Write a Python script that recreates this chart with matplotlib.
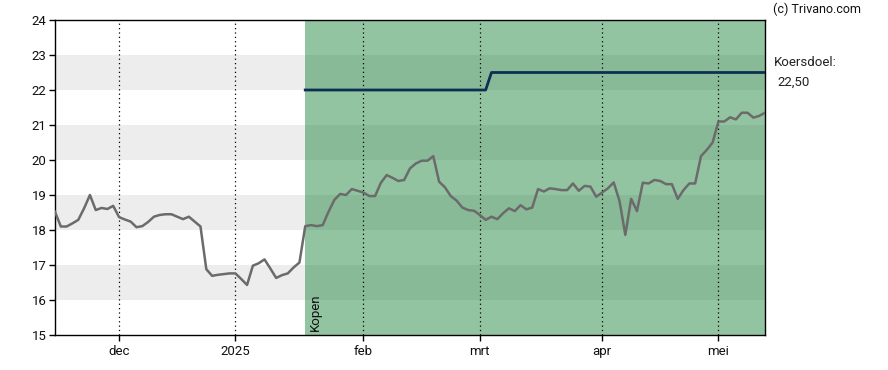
import matplotlib
matplotlib.use("Agg")
import matplotlib.pyplot as plt
from matplotlib.ticker import FixedLocator

plt.rcParams['font.family'] = ['Roboto', 'DejaVu Sans']

# trading-day index and closing price
day_index = list(range(0, 123))
price = [
    18.52, 18.10, 18.10, 18.19, 18.29, 18.62, 19.00, 18.57, 18.63, 18.60,
    18.69, 18.37, 18.30, 18.24, 18.08, 18.11, 18.23, 18.38, 18.43, 18.45,
    18.45, 18.38, 18.31, 18.38, 18.24, 18.10, 16.88, 16.69, 16.72, 16.74,
    16.76, 16.76, 16.60, 16.43, 16.98, 17.05, 17.16, 16.90, 16.63, 16.71,
    16.76, 16.93, 17.07, 18.11, 18.14, 18.11, 18.14, 18.52, 18.86, 19.03,
    19.00, 19.17, 19.12, 19.07, 18.97, 18.97, 19.35, 19.57, 19.49, 19.40,
    19.43, 19.76, 19.90, 19.98, 19.98, 20.11, 19.38, 19.22, 18.97, 18.84,
    18.64, 18.57, 18.55, 18.43, 18.29, 18.38, 18.31, 18.48, 18.62, 18.54,
    18.71, 18.59, 18.64, 19.17, 19.10, 19.19, 19.17, 19.14, 19.14, 19.33,
    19.12, 19.26, 19.24, 18.95, 19.07, 19.19, 19.36, 18.83, 17.86, 18.89,
    18.54, 19.35, 19.33, 19.43, 19.40, 19.31, 19.31, 18.89, 19.14, 19.33,
    19.33, 20.11, 20.29, 20.50, 21.10, 21.10, 21.22, 21.16, 21.35, 21.35,
    21.21, 21.26, 21.35,
]

# price target (koersdoel) from the buy advice onwards
target_index = [43, 74, 75, 122]
target_value = [22.0, 22.0, 22.5, 22.5]

advice_start = 43
advice_label = "Kopen"

month_ticks = [11, 31, 53, 73, 94, 114]
month_labels = ["dec", "2025", "feb", "mrt", "apr", "mei"]

y_ticks = [15, 16, 17, 18, 19, 20, 21, 22, 23, 24]
gray_bands = [(16, 17), (18, 19), (20, 21), (22, 23)]

fig = plt.figure(figsize=(8.88, 3.70), dpi=100)
ax = fig.add_axes([55 / 888, 1 - 335 / 370, 710 / 888, 315 / 370])

xmin, xmax = 0, 122
ax.set_xlim(xmin, xmax)
ax.set_ylim(15, 24)

for lo, hi in gray_bands:
    ax.axhspan(lo, hi, color="#ededed", lw=0, zorder=0)

ax.axvspan(advice_start, xmax, color="#1a8239", alpha=0.47, lw=0, zorder=1)

for t in month_ticks:
    ax.axvline(t, color="black", lw=0.9, ls=(0, (1, 2.5)), zorder=2)

ax.plot(target_index, target_value, color="#0d2f52", lw=2, zorder=3)
ax.plot(day_index, price, color="#6b6b6b", lw=1.8, zorder=4,
        solid_joinstyle="round")

ax.text(advice_start + 0.6, 15.12, advice_label, rotation=90, fontsize=9.5,
        ha="left", va="bottom", color="#111111", zorder=5)

ax.xaxis.set_major_locator(FixedLocator(month_ticks))
ax.set_xticklabels(month_labels)
ax.set_yticks(y_ticks)
ax.tick_params(axis="both", labelsize=9.5, length=4, width=1, color="black",
               labelcolor="#111111")
ax.tick_params(axis="x", pad=3)
ax.tick_params(axis="y", pad=2)
for s in ax.spines.values():
    s.set_color("black")
    s.set_linewidth(1)

fig.text(773 / 888, 1 - 9 / 370, "(c) Trivano.com", fontsize=9, ha="left",
         va="center", color="#111111")
fig.text(774 / 888, 1 - 63 / 370, "Koersdoel:", fontsize=9.5, ha="left",
         va="center", color="#222222")
fig.text(777 / 888, 1 - 82 / 370, "22,50", fontsize=9.5, ha="left",
         va="center", color="#222222")

fig.savefig("out.png", dpi=100)
